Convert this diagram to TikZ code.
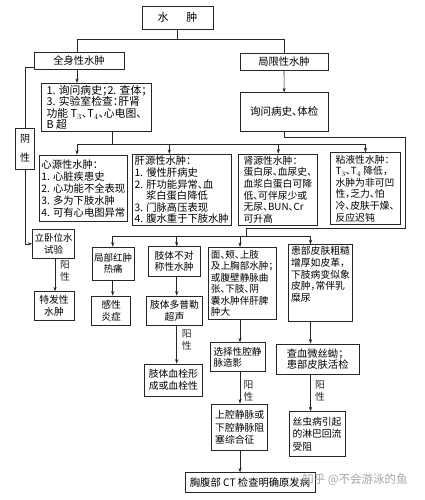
\documentclass[tikz,border=0pt]{standalone}
\usepackage{fontspec}
\setmainfont{Noto Sans CJK SC}[RawFeature={+halt}]
\usetikzlibrary{arrows.meta}
\begin{document}
\begin{tikzpicture}[x=1pt,y=-1pt,
  bx/.style={draw=black!85, line width=0.7pt, inner sep=2pt, font=\fontsize{9.8}{11.6}\selectfont, align=left},
  cbx/.style={bx, align=center},
  arr/.style={draw=black!85, -{Stealth[length=4.5pt,width=3.2pt]}, line width=0.6pt},
  ln/.style={draw=black!85, line width=0.6pt},
  lab/.style={font=\fontsize{9.8}{12}\selectfont, align=center, inner sep=0pt, text=black!85}
]
\fill[white] (0,0) rectangle (425,500);
\useasboundingbox (0,0) rectangle (425,500);

% column coordinates
\coordinate (x25) at (25,0);
\coordinate (x55) at (55,0);
\coordinate (x77) at (77,0);
\coordinate (x112) at (112.7,0);
\coordinate (x169) at (169.3,0);
\coordinate (x177) at (176.7,0);
\coordinate (x240) at (240,0);
\coordinate (x278) at (278.3,0);
\coordinate (x283) at (283,0);
\coordinate (x310) at (310.5,0);
\coordinate (x366) at (365.5,0);

% nodes
\node[cbx, minimum width=71pt, minimum height=23pt, font=\fontsize{11}{12}\selectfont] (A) at (177.5,17.5) {水\hspace{1.6em}肿};
\node[cbx, minimum width=90pt, minimum height=16.5pt, font=\fontsize{10.3}{12}\selectfont] (B) at (79,61) {全身性水肿};
\node[cbx, minimum width=88pt, minimum height=17.5pt, font=\fontsize{10.3}{12}\selectfont] (C) at (284,61.75) {局限性水肿};
\node[bx, minimum width=110pt, minimum height=48pt, font=\fontsize{10.8}{11.5}\selectfont] (D) at (96.7,107.5)
  {1. 询问病史；2. 查体；\\3. 实验室检查：肝肾\\功能 T$_3$、T$_4$、心电图、\\B 超};
\node[cbx, minimum width=88.3pt, minimum height=38.3pt, font=\fontsize{10.5}{12}\selectfont] (E) at (284.2,111.85) {询问病史、体检};
\node[cbx, minimum width=19.3pt, minimum height=41pt, inner sep=1pt, font=\fontsize{10}{19}\selectfont] (F) at (25,148.8) {阴\\性};
\node[bx, minimum width=86.7pt, minimum height=66.7pt, font=\fontsize{10.3}{12}\selectfont] (G) at (83.35,188.35)
  {心源性水肿：\\1. 心脏疾患史\\2. 心功能不全表现\\3. 多为下肢水肿\\4. 可有心电图异常};
\node[bx, minimum width=98.5pt, minimum height=70pt, font=\fontsize{10.3}{11.6}\selectfont] (H) at (181.75,190)
  {肝源性水肿：\\1. 慢性肝病史\\2. 肝功能异常、血\\\hspace{1.1em}浆白蛋白降低\\3. 门脉高压表现\\4. 腹水重于下肢水肿};
\node[bx, minimum width=79pt, minimum height=69pt] (I) at (277.8,189.5)
  {肾源性水肿：\\蛋白尿、血尿史、\\血浆白蛋白可降\\低、可伴尿少或\\无尿、BUN、Cr\\可升高};
\node[bx, minimum width=70pt, minimum height=70pt] (J) at (365,188.3)
  {粘液性水肿：\\T$_3$、T$_4$ 降低，\\水肿为非可凹\\性，乏力、怕\\冷、皮肤干燥、\\反应迟钝};
\node[cbx, minimum width=41pt, minimum height=29pt, font=\fontsize{9.5}{11.6}\selectfont] (K) at (53.5,243.8) {立卧位水\\试验};
\node[cbx, minimum width=40pt, minimum height=28.3pt] (L) at (54,305.85) {特发性\\水肿};
\node[cbx, minimum width=42pt, minimum height=33pt, font=\fontsize{9.5}{11.6}\selectfont] (M) at (113,263.5) {局部红肿\\热痛};
\node[cbx, minimum width=39pt, minimum height=29pt] (N) at (111.2,310.5) {感性\\炎症};
\node[cbx, minimum width=51.7pt, minimum height=29.3pt] (O) at (174.15,261.35) {肢体不对\\称性水肿};
\node[cbx, minimum width=55.6pt, minimum height=29pt] (P) at (174.5,310.5) {肢体多普勒\\超声};
\node[cbx, minimum width=58.7pt, minimum height=32pt] (Q) at (173.35,380) {肢体血栓形\\成或血栓性};
\node[bx, minimum width=67.7pt, minimum height=72pt, inner sep=1.5pt, font=\fontsize{9.6}{11.5}\selectfont] (R) at (242.15,283.3)
  {面、颊、上肢\\及上胸部水肿；\\或腹壁静脉曲\\张、下肢、阴\\囊水肿伴肝脾\\肿大};
\node[bx, minimum width=64.4pt, minimum height=69pt] (S) at (320.5,282.8)
  {患部皮肤粗糙\\增厚如皮革，\\下肢病变似象\\皮肿，常伴乳\\糜尿\\[6pt]};
\node[bx, minimum width=55pt, minimum height=29pt, font=\fontsize{9.6}{11.6}\selectfont] (T) at (237.5,357.2) {选择性腔静\\脉造影};
\node[bx, minimum width=83.3pt, minimum height=30pt, font=\fontsize{10.3}{11.8}\selectfont] (U) at (317.65,359) {查血微丝蚴；\\患部皮肤活检};
\node[bx, minimum width=56pt, minimum height=46.7pt, font=\fontsize{9.8}{12.5}\selectfont] (V) at (239.7,427.35) {上腔静脉或\\下腔静脉阻\\塞综合征};
\node[bx, minimum width=56pt, minimum height=44.3pt, font=\fontsize{9.8}{12.5}\selectfont] (W) at (317,433.85) {丝虫病引起\\的淋巴回流\\受阻};
\node[cbx, minimum width=130pt, minimum height=20pt, font=\fontsize{10.3}{12}\selectfont] (X) at (250,482.7) {胸腹部 CT 检查明确原发病};

% labels
\node[lab] (l1) at (65,271) {阳\\性};
\node[lab] (l2) at (186.7,340) {阳\\性};
\node[lab] (l3) at (248.5,391) {阳\\性};
\node[lab] (l4) at (320,391) {阳\\性};

% connector helper points
\coordinate (t1) at (177.5,39);
\coordinate (b1) at (112.7,144);
\coordinate (r1) at (405.7,137.5);
\coordinate (r2) at (405.7,228.3);
\coordinate (r3) at (246.7,228.3);
\coordinate (b2) at (246.7,236);

% top split
\draw[ln] (A.south) -- (t1);
\draw[ln] (x77 |- B.north) -- (x77 |- t1) -- (C.north |- t1) -- (C.north);
% left branch
\draw[arr] (x77 |- B.south) -- (x77 |- D.north);
\draw[ln] ([yshift=-6.5pt]B.west) -| (F.north);
\draw[arr] (F.south) |- (K.west);
\draw[arr] (x55 |- K.south) -- (x55 |- L.north);
\draw[ln] (x112 |- D.south) -- (b1);
\draw[ln] (x77 |- b1) -- (x366 |- b1);
\draw[arr] (x77 |- b1) -- (x77 |- G.north);
\draw[arr] (x169 |- b1) -- (x169 |- H.north);
\draw[arr] (x278 |- b1) -- (x278 |- I.north);
\draw[arr] (x366 |- b1) -- (x366 |- J.north);
% right branch
\draw[arr] (C.south) -- (E.north);
\draw[ln] (E.south) |- (r1) -- (r2) -- (r3) -- (b2);
\draw[ln] (x112 |- b2) -- (x310 |- b2);
\draw[arr] (x112 |- b2) -- (x112 |- M.north);
\draw[arr] (x177 |- b2) -- (x177 |- O.north);
\draw[arr] (x240 |- b2) -- (x240 |- R.north);
\draw[arr] (x310 |- b2) -- (x310 |- S.north);
\draw[arr] (x112 |- M.south) -- (x112 |- N.north);
\draw[arr] (x177 |- O.south) -- (x177 |- P.north);
\draw[arr] (x177 |- P.south) -- (x177 |- Q.north);
\draw[arr] (x240 |- R.south) -- (x240 |- T.north);
\draw[arr] (x310 |- S.south) -- (x310 |- U.north);
\draw[arr] (x240 |- T.south) -- (x240 |- V.north);
\draw[arr] (x310 |- U.south) -- (x310 |- W.north);
\draw[arr] (x240 |- V.south) -- (x240 |- X.north);

% watermark
\node[text=black!35, font=\fontsize{11.5}{13}\selectfont, inner sep=0pt] (wm) at (355,480) {知乎 @不会游泳的鱼};
\end{tikzpicture}
\end{document}
